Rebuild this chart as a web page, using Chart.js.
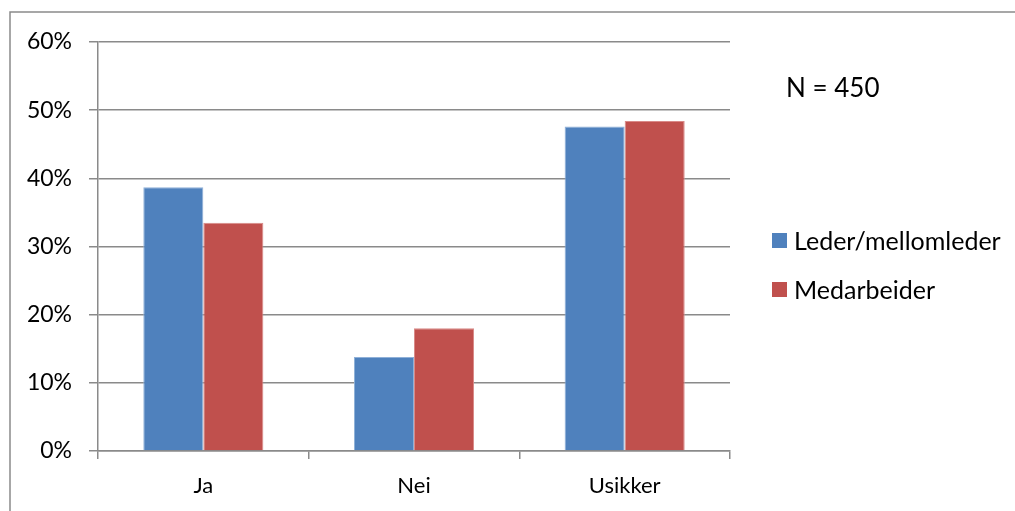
<!DOCTYPE html>
<html>
<head>
<meta charset="utf-8">
<script src="https://cdn.jsdelivr.net/npm/chart.js@4"></script>
<style>
  html, body { margin: 0; padding: 0; background: #fff; }
  canvas { display: block; }
</style>
</head>
<body>
<canvas id="c" width="1015" height="511"></canvas>
<script>
// Categories, series and axis ticks
const categories = ['Ja', 'Nei', 'Usikker'];
const lederValues = [38.7, 13.8, 47.6];
const medarbeiderValues = [33.5, 18.0, 48.4];
const seriesNames = ['Leder/mellomleder', 'Medarbeider'];
const yTicks = [0, 10, 20, 30, 40, 50, 60];
const noteText = 'N = 450';

const FONT = 'Lato, "Open Sans", sans-serif';
const GRID = '#8a8a8a';

// White background and the frame along the top and left edges
const framePlugin = {
  id: 'frame',
  beforeDraw(chart) {
    const ctx = chart.ctx;
    ctx.save();
    ctx.fillStyle = '#fff';
    ctx.fillRect(0, 0, chart.width, chart.height);
    ctx.strokeStyle = GRID;
    ctx.lineWidth = 1.5;
    ctx.beginPath();
    ctx.moveTo(10, chart.height);
    ctx.lineTo(10, 12);
    ctx.lineTo(chart.width, 12);
    ctx.stroke();
    ctx.restore();
  }
};

// Legend entries and the sample-size note on the right
const sideLegendPlugin = {
  id: 'sideLegend',
  afterDraw(chart) {
    const ctx = chart.ctx;
    const area = chart.chartArea;
    ctx.save();
    ctx.fillStyle = '#000';
    ctx.textBaseline = 'alphabetic';
    ctx.textAlign = 'left';
    ctx.font = '26px ' + FONT;
    ctx.fillText(noteText, area.right + 56, 97);

    ctx.font = '25px ' + FONT;
    ctx.textBaseline = 'middle';
    const rows = [240.5, 289.5];
    chart.data.datasets.forEach((ds, i) => {
      const y = rows[i];
      ctx.fillStyle = ds.backgroundColor;
      ctx.fillRect(area.right + 42, y - 7.5, 15, 15);
      ctx.fillStyle = '#000';
      ctx.fillText(ds.label, area.right + 64, y + 1);
    });
    ctx.restore();
  }
};

new Chart(document.getElementById('c'), {
  type: 'bar',
  data: {
    labels: categories,
    datasets: [
      {
        label: seriesNames[0],
        data: lederValues,
        backgroundColor: '#4F81BD',
        borderColor: '#8fb0d8',
        borderWidth: 1,
        borderSkipped: 'bottom'
      },
      {
        label: seriesNames[1],
        data: medarbeiderValues,
        backgroundColor: '#C0504D',
        borderColor: '#d98a88',
        borderWidth: 1,
        borderSkipped: 'bottom'
      }
    ]
  },
  options: {
    responsive: false,
    animation: false,
    layout: { padding: { left: 0, right: 285, top: 42, bottom: 0 } },
    datasets: {
      bar: { categoryPercentage: 0.57, barPercentage: 1.0 }
    },
    plugins: {
      legend: { display: false },
      tooltip: { enabled: false }
    },
    scales: {
      x: {
        offset: true,
        afterFit(scale) { scale.height = 60; },
        grid: {
          offset: true,
          drawOnChartArea: false,
          drawTicks: true,
          tickLength: 8,
          color: GRID,
          lineWidth: 1.5
        },
        border: { display: true, color: GRID, width: 1.5 },
        ticks: {
          color: '#000',
          font: { family: FONT, size: 22 },
          padding: 14
        }
      },
      y: {
        min: 0,
        max: 60,
        afterFit(scale) { scale.width = 98; },
        afterBuildTicks(scale) { scale.ticks = yTicks.map(v => ({ value: v })); },
        grid: {
          color: GRID,
          lineWidth: 1.5,
          tickLength: 9,
          drawTicks: true
        },
        border: { display: true, color: GRID, width: 1.5 },
        ticks: {
          color: '#000',
          font: { family: FONT, size: 23 },
          padding: 17,
          callback: v => v + '%'
        }
      }
    }
  },
  plugins: [framePlugin, sideLegendPlugin]
});
</script>
</body>
</html>
